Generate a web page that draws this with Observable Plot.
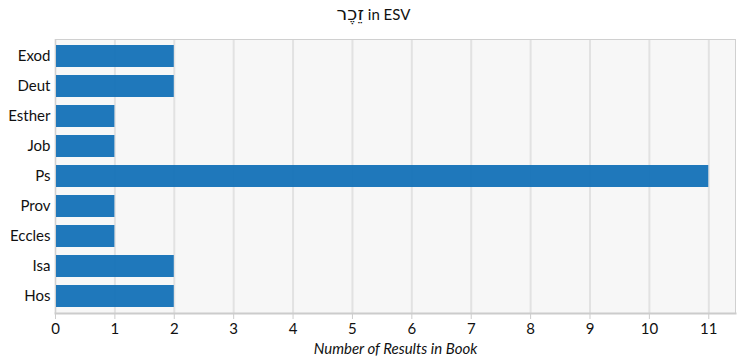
<!DOCTYPE html>
<html>
<head>
<meta charset="utf-8">
<script src="https://cdn.jsdelivr.net/npm/d3@7"></script>
<script src="https://cdn.jsdelivr.net/npm/@observablehq/plot@0.6"></script>
<style>
  body { margin: 0; background: #fff; font-family: Lato, "DejaVu Sans", sans-serif; }
  #title { height: 28px; line-height: 26px; text-align: center; font-size: 15px; color: #111; }
  #title .he { font-size: 19px; font-family: "DejaVu Sans", sans-serif; }
  #chart svg { display: block; }
</style>
</head>
<body>
<div id="title"><span class="he" dir="rtl">זֵכֶר</span> in ESV</div>
<div id="chart"></div>
<script>
const books = ["Exod", "Deut", "Esther", "Job", "Ps", "Prov", "Eccles", "Isa", "Hos"];
const counts = [2, 2, 1, 1, 11, 1, 1, 2, 2];
const xTicks = [0, 1, 2, 3, 4, 5, 6, 7, 8, 9, 10, 11];
const xLabel = "Number of Results in Book";

const data = books.map((b, i) => ({book: b, count: counts[i]}));

const chart = Plot.plot({
  width: 747,
  height: 332,
  marginTop: 11,
  marginBottom: 47,
  marginLeft: 55,
  marginRight: 12,
  style: {fontFamily: "Lato, 'DejaVu Sans', sans-serif", fontSize: "15px", color: "#111", background: "#fff"},
  x: {domain: [0, 11.45], ticks: xTicks, label: null},
  y: {domain: books, paddingInner: 0.28, paddingOuter: 0.15, label: null},
  marks: [
    Plot.frame({fill: "#f7f7f7", stroke: null}),
    Plot.ruleX(xTicks, {stroke: "#e2e2e2", strokeWidth: 2}),
    Plot.barX(data, {x: "count", y: "book", fill: "#1672b8", fillOpacity: 0.96}),
    Plot.axisX({ticks: xTicks, tickSize: 6, stroke: "#ccc", tickPadding: 4, fontSize: 15, color: "#111", label: null}),
    Plot.axisY({tickSize: 0, tickPadding: 5, fontSize: 15, label: null}),
    Plot.frame({stroke: "#d0d0d0", strokeWidth: 1}),
    Plot.frame({anchor: "bottom", stroke: "#ccc", strokeWidth: 2}),
    Plot.text([xLabel], {frameAnchor: "bottom", dy: 40, fontStyle: "italic", fontSize: 15, fill: "#111"})
  ]
});
document.getElementById("chart").appendChild(chart);
</script>
</body>
</html>
